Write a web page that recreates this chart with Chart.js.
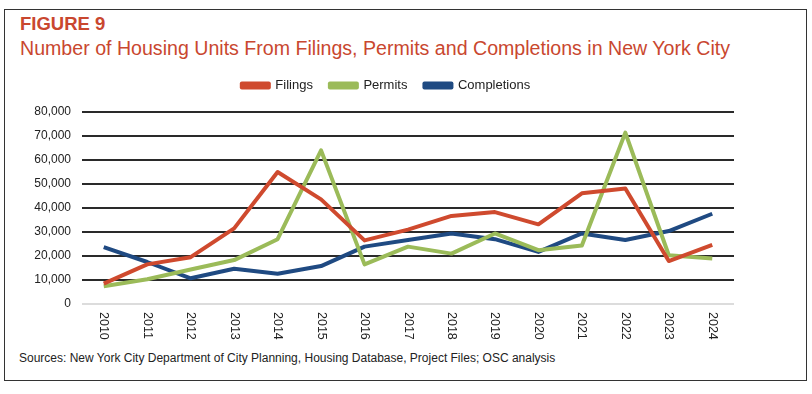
<!DOCTYPE html>
<html>
<head>
<meta charset="utf-8">
<script src="https://cdn.jsdelivr.net/npm/chart.js@4.4.1/dist/chart.umd.min.js"></script>
<style>
  html, body { margin: 0; padding: 0; background: #fff; }
  body { width: 812px; height: 394px; position: relative; overflow: hidden; font-family: "Liberation Sans", Arial, sans-serif; }
  #frame { position: absolute; left: 4px; top: 9px; width: 803px; height: 372px; border: 1.5px solid #333; box-sizing: border-box; }
  #fig { position: absolute; left: 20px; top: 13px; font-weight: bold; font-size: 18.5px; color: #C9472F; white-space: nowrap; }
  #sub { position: absolute; left: 20px; top: 37px; font-size: 19.6px; color: #C9472F; white-space: nowrap; }
  #src { position: absolute; left: 19px; top: 351px; font-size: 12px; color: #222; white-space: nowrap; }
  #wrap { position: absolute; left: 6px; top: 61px; width: 764px; height: 290px; }
</style>
</head>
<body>
<div id="frame"></div>
<div id="fig">FIGURE 9</div>
<div id="sub">Number of Housing Units From Filings, Permits and Completions in New York City</div>
<div id="wrap"><canvas id="c" width="764" height="290"></canvas></div>
<div id="src">Sources: New York City Department of City Planning, Housing Database, Project Files; OSC analysis</div>
<script>
const years = ["2010","2011","2012","2013","2014","2015","2016","2017","2018","2019","2020","2021","2022","2023","2024"];
const filings = [8500, 16500, 19500, 31500, 55000, 43600, 26500, 31000, 36700, 38300, 33200, 46100, 48100, 17900, 24600];
const permits = [7400, 10300, 14400, 18300, 27000, 64000, 16500, 23900, 21000, 29400, 22400, 24400, 71400, 20300, 19000];
const completions = [23700, 17500, 10700, 14700, 12600, 15800, 23900, 26700, 29400, 27000, 21700, 29400, 26700, 30400, 37600];
const yTicks = [0, 10000, 20000, 30000, 40000, 50000, 60000, 70000, 80000];

const RED = "#CF4A2E", GREEN = "#9BBB59", BLUE = "#1F4A82";

const xLabelPlugin = {
  id: "xLabels",
  beforeLayout(chart) {
    const lg = chart.legend;
    if (lg && !lg._patched) {
      const f = lg.fit;
      lg.fit = function () { f.call(this); this.height += 10; };
      const d = lg.draw;
      lg.draw = function (area) {
        this.ctx.save();
        this.ctx.translate(16, 0);
        d.call(this, area);
        this.ctx.restore();
      };
      lg._patched = true;
    }
  },
  afterDraw(chart) {
    const ctx = chart.ctx;
    const xs = chart.scales.x;
    const bottom = chart.chartArea.bottom;
    ctx.save();
    ctx.fillStyle = "#222";
    ctx.font = "12.5px 'Liberation Sans', Arial, sans-serif";
    ctx.textAlign = "left";
    ctx.textBaseline = "middle";
    years.forEach((lab, i) => {
      const x = xs.getPixelForValue(i);
      ctx.save();
      ctx.translate(x, bottom + 8);
      ctx.rotate(Math.PI / 2);
      ctx.fillText(lab, 0, 0);
      ctx.restore();
    });
    ctx.restore();
  }
};

const mk = (label, data, color) => ({
  label, data, borderColor: color, backgroundColor: color,
  borderWidth: 4, pointRadius: 0, tension: 0, fill: false, borderJoinStyle: "round"
});

new Chart(document.getElementById("c"), {
  type: "line",
  data: {
    labels: years,
    datasets: [mk("Filings", filings, RED), mk("Permits", permits, GREEN), mk("Completions", completions, BLUE)]
  },
  options: {
    responsive: false,
    animation: false,
    devicePixelRatio: 1,
    layout: { padding: { top: 1, right: 36, left: 0, bottom: 0 } },
    plugins: {
      legend: {
        position: "top",
        labels: {
          boxWidth: 27, boxHeight: 4, padding: 17, color: "#222",
          font: { family: "'Liberation Sans', Arial, sans-serif", size: 13 }
        }
      },
      tooltip: { enabled: false }
    },
    scales: {
      x: {
        offset: true,
        grid: { display: false },
        border: { display: false },
        ticks: { display: false },
        afterFit(s) { s.height = 47; }
      },
      y: {
        min: 0, max: 80000,
        afterBuildTicks(s) { s.ticks = yTicks.map(v => ({ value: v })); },
        afterFit(s) { s.width = 76; },
        grid: {
          drawTicks: false,
          color: (c) => c.tick && c.tick.value === 0 ? "#dcdcdc" : "#2a2a2a",
          lineWidth: 2
        },
        border: { display: false },
        ticks: {
          padding: 11, color: "#222",
          font: { family: "'Liberation Sans', Arial, sans-serif", size: 12 },
          callback: (v) => v.toLocaleString("en-US")
        }
      }
    }
  },
  plugins: [xLabelPlugin]
});
</script>
</body>
</html>
